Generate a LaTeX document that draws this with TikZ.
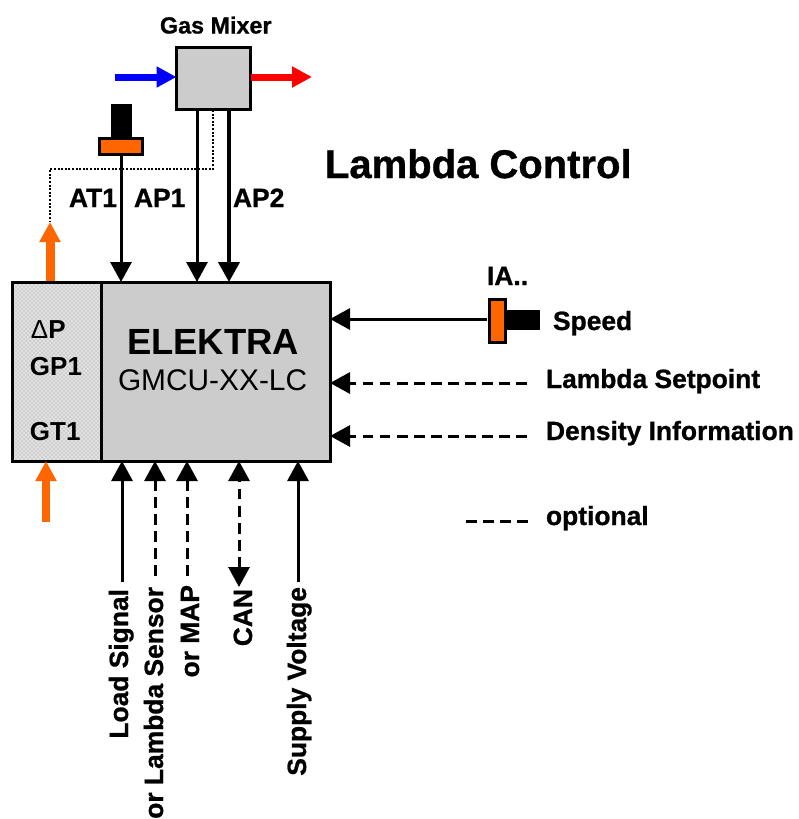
\documentclass[tikz,border=0pt]{standalone}
\usepackage{fontspec}
\setmainfont[BoldFeatures={FakeBold=0.9}]{Liberation Sans}
\newfontfamily\elekfont{Liberation Sans}
\usetikzlibrary{arrows.meta,patterns}
\definecolor{boxgray}{HTML}{CCCCCC}
\definecolor{panelgray}{HTML}{E2E2E2}
\definecolor{sensororange}{HTML}{FF6600}
\tikzset{
  x=0.75pt,y=-0.75pt,
  lbl/.style={inner sep=0,outer sep=0,font=\fontsize{19.8pt}{22pt}\selectfont\bfseries,text=black},
  lblw/.style={lbl,anchor=base west},
  lblv/.style={lbl,anchor=base east,rotate=90},
  lblin/.style={lblw,font=\elekfont\fontsize{19.5pt}{22pt}\selectfont\bfseries},
  box/.style={draw=black,line width=2.25pt,inner sep=0,outer sep=0},
  solidblk/.style={inner sep=0,outer sep=0,fill=black},
  sig/.style={draw=black,line width=2.25pt,-{Triangle[length=15pt,width=15.75pt]}},
  sigboth/.style={draw=black,line width=2.25pt,{Triangle[length=15pt,width=15.75pt]}-{Triangle[length=15pt,width=15.75pt]}},
  dashline/.style={dash pattern=on 8pt off 4.8pt},
  flow/.style={line width=#1,-{Triangle[length=15pt,width=15pt]}},
  tube/.style={draw=black,line width=1.5pt,dash pattern=on 1.5pt off 1.2pt},
}
\begin{document}
\begin{tikzpicture}
\useasboundingbox (0,0) rectangle (799,819);
\clip (0,0) rectangle (799,819);
\fill[white] (0,0) rectangle (799,819);
% main unit
\node[box,fill=panelgray,minimum width=66.75pt,minimum height=134.25pt] (grad) at (57,371.5) {};
\fill[pattern=crosshatch dots,pattern color=black!45] (grad.south west) rectangle (grad.north east);
\node[box,fill=boxgray,minimum width=171.75pt,minimum height=134.25pt] (ctrl) at (215.5,371.5) {};
\draw[line width=2.25pt] (grad.south west) rectangle (grad.north east);
% gas mixer
\node[box,fill=boxgray,minimum width=55.5pt,minimum height=46.5pt] (mixer) at (213.5,78) {};
\node[lblw,font=\fontsize{17.5pt}{20pt}\selectfont\bfseries] (mixname) at (160,33.5) {Gas Mixer};
\coordinate (blueS) at (115,77);
\coordinate (redE) at (312,77);
\draw[flow=5.25pt,blue] (blueS) -- (blueS -| mixer.west);
\draw[flow=5.25pt,red] (redE -| mixer.east) -- (redE);
% AT1 sensor
\node[solidblk,minimum width=15.75pt,minimum height=24.75pt] (atbody) at (121.5,120.5) {};
\node[box,fill=sensororange,minimum width=32.25pt,minimum height=12pt] (athead) at (121,146.5) {};
% pressure tubes
\coordinate (ap1) at (197,110);
\coordinate (ap2) at (229,110);
\coordinate (dp) at (213,110);
\coordinate (dpbend) at (213,169);
\coordinate (dpcorner) at (50,169);
\coordinate (orangeTopTip) at (50,222);
\coordinate (orangeTop) at (50,281);
\coordinate (orangeLow) at (46,522);
\draw[tube] (dp) -- (dpbend) -- (dpcorner) -- (orangeTopTip);
\draw[sig] (athead.south) -- (athead.south |- ctrl.north);
\draw[sig] (ap1) -- (ap1 |- ctrl.north);
\draw[sig,line width=3pt] (ap2) -- (ap2 |- ctrl.north);
\draw[flow=6.75pt,sensororange] (orangeTop) -- (orangeTopTip);
\draw[flow=6pt,sensororange] (orangeLow) -- (orangeLow |- grad.south);
% texts at top
\node[lblw] (at1) at (69,207) {AT1};
\node[lblw] (ap1t) at (134,207) {AP1};
\node[lblw] (ap2t) at (233,207) {AP2};
\node[lblw,font=\fontsize{30pt}{34pt}\selectfont\bfseries] (title) at (325,178) {Lambda Control};
% text in unit
\node[lblin] (dpt) at (31,338) {{\mdseries Δ}P};
\node[lblin] (gp1) at (30,375) {GP1};
\node[lblin] (gt1) at (30,440) {GT1};
\node[lblin,font=\elekfont\fontsize{27.3pt}{30pt}\selectfont\bfseries] (elek) at (127,354) {ELEKTRA};
\node[lblin,font=\elekfont\fontsize{22.4pt}{26pt}\selectfont] (gmcu) at (118,390) {GMCU-XX-LC};
% speed sensor
\node[box,fill=sensororange,minimum width=12pt,minimum height=32.25pt] (iahead) at (497,320.5) {};
\node[solidblk,minimum width=25.5pt,minimum height=15pt] (iabody) at (523,320) {};
\node[lblw] (ia) at (487,285) {IA..};
\coordinate (iaout) at (487,319);
\draw[sig] (iaout) -- (iaout -| ctrl.east);
\node[lblw] (speed) at (553,330) {Speed};
% dashed inputs on the right
\node[lblw] (setp) at (546,388) {Lambda Setpoint};
\node[lblw] (dens) at (546,440) {Density Information};
\node[lblw] (opt) at (546,525) {optional};
\coordinate (setpS) at (527,383);
\coordinate (densS) at (527,436);
\coordinate (optS) at (528,521);
\coordinate (optE) at (466,521);
\draw[sig,dashline] (setpS) -- (setpS -| ctrl.east);
\draw[sig,dashline] (densS) -- (densS -| ctrl.east);
\draw[line width=2.25pt,dashline] (optS) -- (optE);
% inputs from below
\coordinate (loadS) at (122,582);
\coordinate (lamS) at (155,576);
\coordinate (mapS) at (187,576);
\coordinate (canS) at (239,587);
\coordinate (supS) at (298,582);
\draw[sig] (loadS) -- (loadS |- ctrl.south);
\draw[sig,dashline] (lamS) -- (lamS |- ctrl.south);
\draw[sig,dashline] (mapS) -- (mapS |- ctrl.south);
\draw[sigboth,dashline] (canS) -- (canS |- ctrl.south);
\draw[sig] (supS) -- (supS |- ctrl.south);
\node[lblv] (load) at (128,589) {Load Signal};
\node[lblv] (lam) at (163,587) {or Lambda Sensor};
\node[lblv] (map) at (199,585) {or MAP};
\node[lblv] (can) at (252,589) {CAN};
\node[lblv] (sup) at (306,587) {Supply Voltage};
\end{tikzpicture}
\end{document}
